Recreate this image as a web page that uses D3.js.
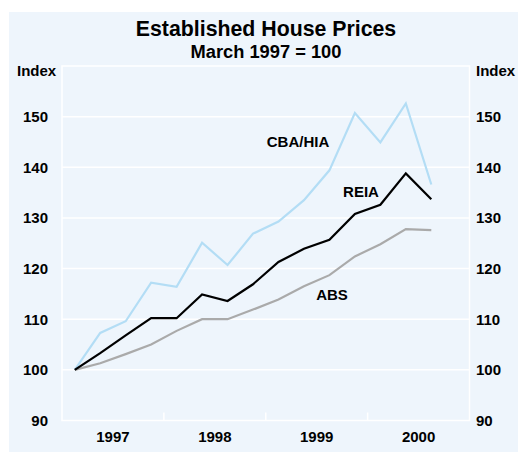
<!DOCTYPE html>
<html><head><meta charset="utf-8">
<script src="https://cdn.jsdelivr.net/npm/d3@7"></script>
<style>
html,body{margin:0;padding:0;background:#fff;}
svg{display:block;}
text{font-family:"Liberation Sans",Arial,sans-serif;font-weight:bold;fill:#000;}
</style></head>
<body>
<script>
// Quarterly index, March 1997 = 100 (1997 Q1 .. 2000 Q3)
const quarters = d3.range(15); // quarter index from 1997 Q1
const cbaHia = [100, 107.3, 109.6, 117.2, 116.4, 125.1, 120.7, 126.9, 129.3, 133.5, 139.4, 150.7, 144.9, 152.6, 136.6];
const reia   = [100, 103.3, 106.8, 110.2, 110.2, 114.9, 113.6, 116.9, 121.3, 123.9, 125.7, 130.8, 132.6, 138.8, 133.7];
const abs    = [100, 101.3, 103.1, 105.0, 107.7, 110.0, 110.0, 111.9, 113.9, 116.5, 118.7, 122.4, 124.8, 127.8, 127.6];
const years = ["1997", "1998", "1999", "2000"];
const yTicks = [90, 100, 110, 120, 130, 140, 150];

const W = 518, H = 452;
const svg = d3.select("body").append("svg").attr("width", W).attr("height", H);

svg.append("rect").attr("x", 9).attr("y", 12).attr("width", W - 9).attr("height", H - 12).attr("fill", "#eef5fc");

const L = 62, R = 469.5, T = 66, B = 420.5;
const x = d3.scaleLinear().domain([0, 16]).range([L, R]); // quarters; point at quarter centre
const y = d3.scaleLinear().domain([90, 160]).range([B, T]);

// gridlines
svg.append("g").selectAll("line").data(yTicks.filter(d => d > 90)).join("line")
  .attr("x1", L).attr("x2", R).attr("y1", d => y(d)).attr("y2", d => y(d))
  .attr("stroke", "#fff").attr("stroke-width", 1.5);

// plot border
svg.append("rect").attr("x", L).attr("y", T).attr("width", R - L).attr("height", B - T)
  .attr("fill", "none").attr("stroke", "#fff").attr("stroke-width", 1.5);

// year separator ticks
svg.append("g").selectAll("line").data([4, 8, 12]).join("line")
  .attr("x1", d => x(d)).attr("x2", d => x(d)).attr("y1", B).attr("y2", B - 8)
  .attr("stroke", "#fff").attr("stroke-width", 1.5);

// axes labels
const fs = 15;
svg.append("g").selectAll("text").data(yTicks).join("text")
  .attr("x", 48).attr("y", d => y(d)).attr("dy", "0.36em").attr("text-anchor", "end")
  .attr("font-size", fs).text(d => d);
svg.append("g").selectAll("text").data(yTicks).join("text")
  .attr("x", 476).attr("y", d => y(d)).attr("dy", "0.36em").attr("text-anchor", "start")
  .attr("font-size", fs).text(d => d);
svg.append("text").attr("x", 17).attr("y", 76).attr("font-size", fs).text("Index");
svg.append("text").attr("x", 476).attr("y", 76).attr("font-size", fs).text("Index");

svg.append("g").selectAll("text").data(years).join("text")
  .attr("x", (d, i) => x(i * 4 + 2)).attr("y", 442).attr("text-anchor", "middle")
  .attr("font-size", fs).text(d => d);

// title
svg.append("text").attr("x", 266).attr("y", 36).attr("text-anchor", "middle").attr("font-size", 21.3).text("Established House Prices");
svg.append("text").attr("x", 266).attr("y", 58).attr("text-anchor", "middle").attr("font-size", 18.3).text("March 1997 = 100");

// lines
const line = d3.line().x((d, i) => x(quarters[i] + 0.5)).y(d => y(d));
const series = [
  {v: abs, c: "#aaaaaa"},
  {v: cbaHia, c: "#b3ddf5"},
  {v: reia, c: "#000000"}
];
svg.append("g").selectAll("path").data(series).join("path")
  .attr("d", d => line(d.v)).attr("fill", "none").attr("stroke", d => d.c)
  .attr("stroke-width", 2.2).attr("stroke-linejoin", "miter");

// series labels
svg.append("text").attr("x", 298).attr("y", 147).attr("text-anchor", "middle").attr("font-size", fs).text("CBA/HIA");
svg.append("text").attr("x", 361).attr("y", 197).attr("text-anchor", "middle").attr("font-size", fs).text("REIA");
svg.append("text").attr("x", 332).attr("y", 300).attr("text-anchor", "middle").attr("font-size", fs).text("ABS");
</script>
</body></html>
